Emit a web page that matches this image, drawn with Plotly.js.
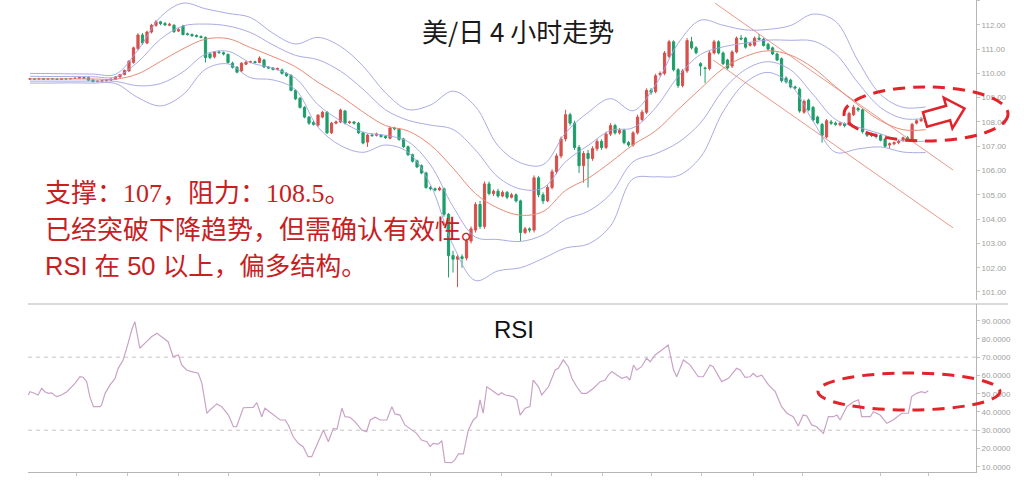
<!DOCTYPE html>
<html>
<head>
<meta charset="utf-8">
<script src="https://cdn.plot.ly/plotly-3.0.1.min.js"></script>
<style>html,body{margin:0;padding:0;background:#fff;}#chart{width:1024px;height:487px;}</style>
</head>
<body>
<div id="chart"></div>
<script>
// ---- 4H USD/JPY candles ----
const open = [109.76,109.78,109.76,109.79,109.76,109.78,109.77,109.75,109.78,109.77,
109.79,109.80,109.83,109.82,109.73,109.66,109.68,109.70,109.72,109.76,
109.85,109.95,110.10,110.45,111.02,111.58,111.25,111.70,111.98,112.12,
112.05,111.98,111.98,111.74,111.95,111.63,111.60,111.56,111.52,111.48,
110.80,110.68,110.88,110.85,110.78,110.42,110.25,110.10,110.38,110.46,
110.48,110.45,110.55,110.26,110.22,110.16,110.14,110.00,109.92,109.30,
108.98,108.60,108.20,107.98,107.87,108.20,108.40,107.55,107.95,108.00,
108.45,107.97,108.00,107.95,107.55,107.17,107.46,107.45,107.45,107.40,
107.33,107.75,107.70,107.30,106.98,106.65,106.40,106.20,105.90,105.30,
105.25,105.20,105.25,104.20,102.50,102.35,102.45,102.40,103.10,103.55,
104.60,103.70,105.45,105.05,105.15,104.95,105.10,104.90,105.00,104.75,
103.45,103.60,103.55,105.70,105.00,104.75,105.30,105.95,106.60,107.30,
108.30,107.95,106.95,106.20,106.70,106.50,106.90,107.20,106.95,107.50,
107.85,107.55,107.65,107.15,107.05,107.55,108.10,108.40,109.30,109.25,
109.95,110.00,110.70,111.30,110.15,109.50,110.10,111.30,111.05,110.40,
110.22,110.20,110.84,111.30,110.84,110.55,110.30,110.88,111.45,111.45,
111.16,111.16,111.45,111.40,111.20,111.05,110.80,110.60,109.80,109.72,
109.44,109.35,108.40,108.90,108.60,108.20,107.90,107.38,108.00,107.95,
107.88,107.92,107.90,108.30,108.55,108.50,107.55,107.50,107.45,107.45,
107.30,107.05,107.10,107.15,107.25,107.35,107.25,107.95,108.05,108.10];
const high = [109.80,109.80,109.81,109.81,109.80,109.80,109.79,109.80,109.80,109.81,
109.82,109.85,109.85,109.86,109.75,109.70,109.72,109.74,109.79,109.88,
109.98,110.16,110.55,111.10,111.65,111.66,111.76,112.04,112.20,112.16,
112.12,112.08,112.02,111.86,112.00,111.68,111.64,111.60,111.56,111.52,
110.86,110.92,110.94,110.90,110.82,110.48,110.30,110.46,110.52,110.52,
110.52,110.70,110.60,110.30,110.26,110.24,110.20,110.04,109.96,109.34,
109.02,108.65,108.24,108.04,108.32,108.46,108.45,108.00,108.06,108.55,
108.50,108.05,108.04,108.00,107.60,107.50,107.52,107.56,107.50,107.45,
107.80,107.80,107.75,107.35,107.03,106.70,106.45,106.25,105.95,105.36,
105.30,105.34,105.30,104.25,102.70,102.55,102.55,103.20,103.70,104.70,
104.75,105.55,105.55,105.22,105.25,105.18,105.16,105.08,105.06,104.80,
103.68,103.66,105.80,105.78,105.10,105.40,106.05,106.70,107.40,108.50,
108.38,108.05,107.05,106.80,106.85,107.00,107.30,107.28,107.60,107.95,
107.92,107.75,107.72,107.22,107.62,108.30,108.50,109.38,109.40,109.98,
110.08,110.92,111.38,111.36,110.22,110.18,111.45,111.50,111.12,110.46,
110.28,110.92,111.38,111.36,110.90,110.60,110.95,111.52,111.58,111.50,
111.28,111.52,111.62,111.46,111.26,111.10,110.86,110.66,109.88,109.78,
109.50,109.42,108.92,108.96,108.66,108.26,107.96,108.12,108.08,108.02,
108.00,107.98,108.42,108.70,108.62,108.56,107.62,107.56,107.52,107.50,
107.35,107.16,107.20,107.26,107.40,107.42,107.96,108.12,108.20,108.16];
const low = [109.74,109.74,109.74,109.74,109.74,109.75,109.73,109.74,109.75,109.75,
109.77,109.78,109.78,109.70,109.63,109.63,109.65,109.67,109.70,109.74,
109.82,109.92,110.05,110.40,110.95,111.18,111.20,111.64,111.92,111.98,
111.95,111.94,111.66,111.70,111.56,111.56,111.50,111.48,111.44,110.45,
110.58,110.62,110.80,110.74,110.40,110.20,110.00,110.05,110.34,110.42,
110.40,110.42,110.22,110.18,110.12,110.12,109.95,109.86,109.26,108.90,
108.55,108.15,107.88,107.85,107.80,108.15,107.50,107.50,107.90,107.95,
107.90,107.92,107.90,107.50,107.08,106.97,107.38,107.40,107.35,107.30,
107.28,107.66,107.22,106.92,106.60,106.33,106.10,105.85,105.25,105.18,
105.14,105.15,104.10,101.60,101.80,101.20,102.00,102.30,103.00,103.45,
103.60,103.60,104.98,104.95,104.88,104.90,104.82,104.85,104.68,103.10,
103.38,103.45,103.45,104.90,104.62,104.70,105.22,105.85,106.50,107.20,
107.85,106.85,105.90,105.50,105.30,106.40,106.80,106.85,106.88,107.42,
107.48,107.48,107.08,106.98,106.98,107.48,108.02,108.32,109.12,109.18,
109.88,109.92,110.62,110.08,109.40,109.42,110.02,110.98,110.78,109.90,
109.60,110.12,110.78,110.78,110.34,110.15,110.22,110.82,111.36,111.02,
111.10,111.10,111.36,111.10,110.95,110.75,110.50,109.62,109.58,109.38,
109.34,108.38,108.34,108.44,108.02,107.90,107.15,107.32,107.88,107.84,
107.82,107.78,107.84,108.24,108.42,107.52,107.38,107.38,107.32,107.20,
106.95,106.90,107.04,107.08,107.18,107.24,107.20,107.90,108.00,107.94];
const close = [109.78,109.76,109.79,109.76,109.78,109.77,109.75,109.78,109.77,109.79,
109.80,109.83,109.80,109.72,109.66,109.68,109.70,109.72,109.76,109.85,
109.95,110.12,110.50,111.05,111.58,111.25,111.70,111.98,112.12,112.05,
112.00,112.02,111.72,111.80,111.60,111.60,111.55,111.52,111.48,110.65,
110.65,110.88,110.86,110.80,110.45,110.25,110.05,110.42,110.46,110.48,
110.45,110.63,110.26,110.22,110.16,110.20,110.00,109.90,109.30,108.95,
108.60,108.20,107.95,107.90,108.28,108.40,107.55,107.95,108.00,108.49,
107.95,108.00,107.95,107.55,107.13,107.46,107.44,107.50,107.40,107.35,
107.75,107.72,107.28,106.98,106.65,106.38,106.15,105.90,105.30,105.25,
105.20,105.28,104.20,102.50,102.35,102.45,102.38,103.10,103.60,104.60,
103.70,105.45,105.05,105.15,104.95,105.10,104.90,105.00,104.75,103.45,
103.60,103.55,105.70,105.00,104.75,105.30,105.95,106.60,107.30,108.30,
107.95,106.95,106.20,106.70,106.50,106.90,107.20,106.95,107.50,107.85,
107.55,107.65,107.15,107.05,107.55,108.20,108.40,109.30,109.22,109.90,
110.00,110.84,111.30,110.15,109.50,110.10,111.35,111.05,110.85,110.30,
110.20,110.84,111.30,110.84,110.40,110.22,110.88,111.45,111.42,111.08,
111.22,111.45,111.40,111.15,111.00,110.80,110.55,109.70,109.65,109.44,
109.40,108.45,108.85,108.50,108.08,107.96,107.45,108.05,107.95,107.90,
107.95,107.85,108.35,108.60,108.50,107.60,107.45,107.45,107.40,107.25,
107.00,107.10,107.15,107.20,107.35,107.30,107.90,108.05,108.10,108.00];

// ---- Bollinger / moving average lines, read at every 5th bar ----
const bandBar = [0,4,9,14,19,24,29,34,39,44,49,54,59,64,69,74,79,84,89,94,99,104,109,114,119,124,129,134,139,144,149,154,159,164,169,174,179,184,189,194,199];
const maLine = [109.77,109.77,109.77,109.77,109.76,109.98,110.49,111.01,111.41,111.43,111.06,110.69,110.27,109.63,109.07,108.41,107.85,107.63,107.05,106.10,105.05,104.45,104.16,104.31,105.18,105.68,106.34,107.06,107.63,108.51,109.37,110.20,110.70,110.93,110.75,110.23,109.45,108.70,108.05,107.68,107.68];
const upper1 = [109.88,109.87,109.87,109.86,109.85,110.47,111.41,111.95,112.03,111.95,111.68,111.17,110.74,110.56,110.09,109.35,108.50,108.07,107.87,107.69,106.84,105.73,105.24,105.28,106.36,107.03,107.65,107.76,108.58,109.87,110.78,111.09,111.25,111.37,111.36,111.33,110.80,109.61,108.59,108.14,108.15];
const upper2 = [110.00,109.99,109.98,109.97,109.96,110.96,112.32,112.89,112.66,112.47,112.30,111.65,111.21,111.48,111.11,110.30,109.20,108.51,108.70,109.27,108.63,107.02,106.32,106.24,107.55,108.39,108.96,108.46,109.53,111.23,112.19,111.98,111.79,111.81,111.97,112.44,112.14,110.51,109.13,108.60,108.62];
const lower1 = [109.68,109.68,109.68,109.68,109.67,109.49,109.58,110.06,110.79,110.91,110.44,110.21,109.80,108.71,108.05,107.58,107.45,107.19,106.23,104.52,103.26,103.16,103.08,103.35,103.99,104.32,105.03,106.36,106.69,107.15,107.96,109.31,110.16,110.48,110.14,109.13,108.10,107.79,107.51,107.22,107.21];
const lower2 = [109.60,109.60,109.61,109.60,109.58,109.00,108.66,109.12,110.17,110.39,109.82,109.73,109.33,107.78,107.03,106.75,107.05,106.75,105.41,102.93,101.47,101.87,102.00,102.38,102.81,102.97,103.72,105.66,105.74,105.79,106.55,108.42,109.62,110.04,109.53,108.03,106.75,106.89,106.97,106.76,106.74];

// ---- Hand-drawn downtrend channel (bar index, price) ----
const channelTop = {bar:[152.2,205.1], price:[112.89,106.02]};
const channelBottom = {bar:[151.8,205.1], price:[110.55,103.64]};

// ---- RSI (bar position, value) ----
const rsiBar = [-0.4,0,0.7,1.8,2.6,3.3,4.1,4.8,5.9,7.0,8.2,9.3,10.0,11.1,11.8,12.6,13.3,14.1,15.6,15.9,16.7,17.8,18.9,19.6,20.7,21.8,22.6,23.3,24.4,25.9,27.0,28.2,29.6,30.7,31.8,33.0,33.7,34.8,35.9,37.4,38.2,39.3,40.0,41.5,42.6,44.1,45.2,45.9,47.4,49.6,50.4,51.5,52.2,54.1,55.6,56.7,57.4,58.5,59.6,60.7,61.8,62.6,64.1,65.2,66.3,67.4,68.2,69.3,70.0,71.1,72.2,73.7,74.8,75.6,76.7,77.8,79.3,80.4,81.1,82.2,83.3,84.8,85.9,87.0,88.2,88.9,89.6,90.7,91.5,92.2,93.7,94.4,95.2,96.3,97.4,98.5,99.3,100.0,100.7,101.5,103.0,104.1,104.8,105.6,107.4,108.2,108.9,110.0,111.1,111.8,113.0,113.7,115.2,116.7,117.4,118.5,119.6,120.4,121.5,122.6,123.7,125.2,126.7,127.8,128.5,129.3,130.4,131.5,132.6,133.3,134.1,134.8,135.9,137.0,137.8,138.9,140.4,141.8,143.0,143.7,145.2,146.7,148.5,149.6,151.1,151.8,153.7,155.2,157.0,157.8,158.9,160.0,160.7,161.5,162.6,164.1,165.6,167.0,168.2,169.6,170.7,171.8,172.6,173.7,174.8,176.3,177.4,178.5,179.3,180.0,181.5,183.0,184.1,184.8,186.7,187.4,188.9,190.4,191.8,193.7,195.2,195.9,197.0,198.1,198.9,199.6];
const rsiValue = [49.3,51.1,50.5,49.3,53.0,51.1,50.2,50.5,48.4,49.3,51.1,53.8,55.7,59.3,59.0,56.6,48.4,42.9,42.9,43.8,50.2,54.8,58.4,63.9,68.5,77.6,84.9,89.5,74.9,78.5,81.2,83.1,80.4,78.5,70.3,71.2,65.7,63.0,62.1,61.2,55.7,39.3,41.1,44.4,42.9,38.3,31.9,31.9,42.3,42.5,45.1,37.4,42.0,38.3,35.6,35.6,32.9,26.4,22.8,21.0,15.5,15.5,23.7,30.1,23.7,31.0,30.5,42.0,37.4,37.1,34.7,30.1,29.2,35.6,37.1,35.6,35.6,42.9,38.9,38.3,32.9,30.1,28.3,24.6,23.7,21.0,22.8,22.4,24.2,12.4,12.2,13.7,17.0,17.0,30.1,35.6,37.4,46.6,39.3,53.8,51.1,49.3,50.5,49.3,48.4,46.6,38.3,42.0,42.9,57.5,53.8,49.3,53.8,63.0,63.9,68.5,64.8,58.4,53.8,50.2,50.2,53.0,56.6,57.5,60.2,62.1,60.2,58.4,59.3,57.5,65.7,63.0,64.8,69.4,67.5,71.2,73.9,76.7,63.0,59.3,68.5,65.7,59.3,59.3,65.7,64.8,56.6,58.4,63.9,63.0,59.0,59.3,61.2,59.3,60.2,54.8,51.1,42.9,39.3,37.4,32.3,38.3,37.8,32.9,31.9,28.3,37.4,37.4,38.3,35.6,42.9,45.6,46.6,37.4,37.4,40.1,38.3,33.8,35.6,39.3,39.3,48.4,50.2,51.1,50.5,51.6];
const rsiLevels = [70, 30];

// ---- texts ----
const titleText = '美/日 4 小时走势';
const noteLines = ['支撑：107，阻力：108.5。', '已经突破下降趋势，但需确认有效性。', 'RSI 在 50 以上，偏多结构。'];
const priceTicks = [101,102,103,104,105,106,107,108,109,110,111,112,113];
const rsiTicks = [10,20,30,40,50,60,70,80,90];
const dayTicks = [10.4,21.6,32.9,44,64.4,77.3,88.9,104.7,115.8,127.1,138.2,149.3,160.7,171.6,188.9,199.6];

// ---- layout helpers (pixel -> paper) ----
const ML = 28, MR = 48, MT = 0, MB = 15, W = 1024, H = 487;
const PW = W - ML - MR, PH = H - MT - MB;
const px = x => (x - ML) / PW;
const py = y => 1 - (y - MT) / PH;

const bars = close.map((_, i) => i);
const bandStyle = {color: 'rgba(160,162,226,0.9)', width: 1, shape: 'spline', smoothing: 1};

const traces = [
  {x: bandBar, y: upper2, type: 'scatter', mode: 'lines', line: bandStyle, hoverinfo: 'skip'},
  {x: bandBar, y: upper1, type: 'scatter', mode: 'lines', line: bandStyle, hoverinfo: 'skip'},
  {x: bandBar, y: lower1, type: 'scatter', mode: 'lines', line: bandStyle, hoverinfo: 'skip'},
  {x: bandBar, y: lower2, type: 'scatter', mode: 'lines', line: bandStyle, hoverinfo: 'skip'},
  {x: bandBar, y: maLine, type: 'scatter', mode: 'lines', line: {color: '#e88c76', width: 1, shape: 'spline', smoothing: 1}, hoverinfo: 'skip'},
  {x: bars, open: open, high: high, low: low, close: close, type: 'candlestick',
   increasing: {line: {color: '#d6504c', width: 1}, fillcolor: '#d6504c'},
   decreasing: {line: {color: '#1e9e6a', width: 1}, fillcolor: '#1e9e6a'},
   whiskerwidth: 0, hoverinfo: 'skip'},
  {x: rsiBar, y: rsiValue, type: 'scatter', mode: 'lines', xaxis: 'x', yaxis: 'y2',
   line: {color: '#c8a3c6', width: 1.2}, hoverinfo: 'skip'}
];

const axisCommon = {showgrid: false, zeroline: false, showline: true, linecolor: '#b5b5b5', linewidth: 1,
  ticks: 'outside', ticklen: 3, tickcolor: '#c4c4c4', fixedrange: true};
const tickFont = {family: 'Liberation Sans, Arial, sans-serif', size: 8, color: '#a0a0a0'};

const red = '#e3232a';
const arrowPts = [[923.0,112.3],[946.1,105.8],[943.8,97.6],[964.5,108.4],[952.4,128.4],[950.1,120.2],[927.0,126.7]];
const arrowPath = 'M ' + arrowPts.map(p => px(p[0]).toFixed(5) + ',' + py(p[1]).toFixed(5)).join(' L ') + ' Z';

const shapes = [
  ...rsiLevels.map(v => ({type: 'line', xref: 'paper', x0: 0, x1: 1, yref: 'y2', y0: v, y1: v,
    line: {color: '#c6c6c6', width: 1, dash: '4px,4px'}, layer: 'below'})),
  {type: 'line', xref: 'paper', x0: 0, x1: px(1008), yref: 'paper', y0: py(304), y1: py(304),
    line: {color: '#b5b5b5', width: 1}},
  {type: 'line', xref: 'x', yref: 'y', x0: channelTop.bar[0], y0: channelTop.price[0], x1: channelTop.bar[1], y1: channelTop.price[1],
    line: {color: 'rgba(228,136,118,0.85)', width: 1}},
  {type: 'line', xref: 'x', yref: 'y', x0: channelBottom.bar[0], y0: channelBottom.price[0], x1: channelBottom.bar[1], y1: channelBottom.price[1],
    line: {color: 'rgba(228,136,118,0.85)', width: 1}},
  {type: 'circle', xref: 'paper', yref: 'paper', x0: px(844), x1: px(1008), y0: py(141), y1: py(87),
    line: {color: red, width: 3, dash: '12px,8px'}, layer: 'above'},
  {type: 'circle', xref: 'paper', yref: 'paper', x0: px(818), x1: px(1000), y0: py(410), y1: py(373),
    line: {color: red, width: 3, dash: '12px,8px'}, layer: 'above'},
  {type: 'path', xref: 'paper', yref: 'paper', path: arrowPath, fillcolor: '#ffffff',
    line: {color: red, width: 2.5}, layer: 'above'}
];

const noteColor = '#c8201f';
const annotations = [
  {xref: 'paper', yref: 'paper', x: px(518), y: py(30), xanchor: 'center', yanchor: 'middle', showarrow: false,
   text: titleText, font: {family: 'Noto Sans CJK SC, sans-serif', size: 26, color: '#1a1a1a'}},
  {xref: 'paper', yref: 'paper', x: px(43), y: py(193), xanchor: 'left', yanchor: 'middle', showarrow: false,
   text: noteLines[0], font: {family: 'Liberation Serif, Noto Sans CJK SC, serif', size: 26, color: noteColor}},
  {xref: 'paper', yref: 'paper', x: px(43), y: py(230), xanchor: 'left', yanchor: 'middle', showarrow: false,
   text: noteLines[1], font: {family: 'Liberation Serif, Noto Sans CJK SC, serif', size: 26, color: noteColor}},
  {xref: 'paper', yref: 'paper', x: px(43), y: py(266), xanchor: 'left', yanchor: 'middle', showarrow: false,
   text: noteLines[2], font: {family: 'Liberation Sans, Noto Sans CJK SC, sans-serif', size: 25.5, color: noteColor}},
  {xref: 'paper', yref: 'paper', x: px(514), y: py(329), xanchor: 'center', yanchor: 'middle', showarrow: false,
   text: 'RSI', font: {family: 'Liberation Sans, Arial, sans-serif', size: 24, color: '#111'}}
];

const layout = {
  width: W, height: H,
  margin: {l: ML, r: MR, t: MT, b: MB, pad: 0},
  paper_bgcolor: '#ffffff', plot_bgcolor: '#ffffff',
  showlegend: false,
  xaxis: Object.assign({}, axisCommon, {range: [-0.44, 210.2], anchor: 'y2', tickvals: dayTicks,
    showticklabels: false, rangeslider: {visible: false}}),
  yaxis: Object.assign({}, axisCommon, {domain: [1 - 300 / PH, 1], range: [100.67, 113.02], side: 'right', anchor: 'x',
    tickvals: priceTicks, tickformat: '.2f', tickfont: tickFont}),
  yaxis2: Object.assign({}, axisCommon, {domain: [0, 1 - 304 / PH], range: [7.1, 99.15], side: 'right', anchor: 'x',
    tickvals: rsiTicks, tickformat: '.4f', tickfont: tickFont}),
  shapes: shapes,
  annotations: annotations
};

Plotly.newPlot('chart', traces, layout, {displayModeBar: false, staticPlot: true});
</script>
</body>
</html>
